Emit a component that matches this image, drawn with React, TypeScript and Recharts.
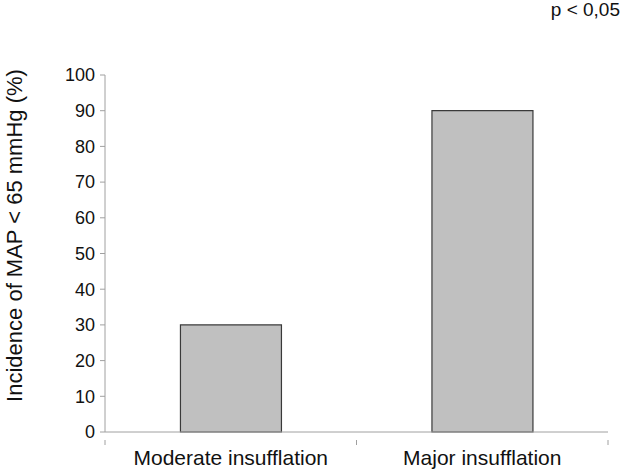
import { Bar, BarChart, XAxis, YAxis } from "recharts";

const groups = ["Moderate insufflation", "Major insufflation"];
const incidence = [30, 90];
const yTicks = [0, 10, 20, 30, 40, 50, 60, 70, 80, 90, 100];

const data = groups.map((group, i) => ({ group, incidence: incidence[i] }));

const FONT = "Arial, 'Liberation Sans', Helvetica, sans-serif";
const AXIS = "#a0a0a0";

// category label at the band centre, tick marks at the band edges
function GroupTick(props: any) {
  const { x, y, payload } = props;
  const half = payload.offset ?? 0;
  return (
    <g>
      <line x1={x - half} y1={y} x2={x - half} y2={y + 5} stroke={AXIS} />
      <line x1={x + half} y1={y} x2={x + half} y2={y + 5} stroke={AXIS} />
      <text
        x={x}
        y={y + 25}
        textAnchor="middle"
        fill="#111"
        fontSize={21}
        fontFamily={FONT}
      >
        {payload.value}
      </text>
    </g>
  );
}

function YTitle(props: any) {
  const { viewBox } = props;
  const cx = viewBox.x + 14;
  const cy = viewBox.y + viewBox.height / 2 - 18;
  return (
    <text
      x={cx}
      y={cy}
      transform={`rotate(-90 ${cx} ${cy})`}
      textAnchor="middle"
      dominantBaseline="central"
      fill="#111"
      fontSize={22}
      fontFamily={FONT}
    >
      Incidence of MAP &lt; 65 mmHg (%)
    </text>
  );
}

export default function App() {
  return (
    <div
      style={{
        position: "absolute",
        left: 0,
        top: 0,
        width: 625,
        height: 471,
        background: "#fff",
      }}
    >
      <div
        style={{
          position: "absolute",
          right: 5,
          top: -1,
          fontFamily: FONT,
          fontSize: 19,
          color: "#111",
          lineHeight: "22px",
        }}
      >
        p &lt; 0,05
      </div>
      <BarChart
        width={625}
        height={471}
        data={data}
        margin={{ top: 75, right: 17, bottom: 0, left: 0 }}
        barCategoryGap="30%"
      >
        <XAxis
          dataKey="group"
          height={39}
          tickLine={false}
          axisLine={{ stroke: AXIS }}
          tick={<GroupTick />}
          interval={0}
        />
        <YAxis
          width={105}
          domain={[0, 100]}
          ticks={yTicks}
          interval={0}
          tickSize={5}
          tickMargin={5}
          tickLine={{ stroke: AXIS }}
          axisLine={{ stroke: AXIS }}
          tick={{ fill: "#111", fontSize: 18, fontFamily: FONT }}
          label={{ content: <YTitle /> }}
        />
        <Bar
          dataKey="incidence"
          fill="#c0c0c0"
          stroke="#3a3a3a"
          strokeWidth={1.2}
          isAnimationActive={false}
        />
      </BarChart>
    </div>
  );
}
